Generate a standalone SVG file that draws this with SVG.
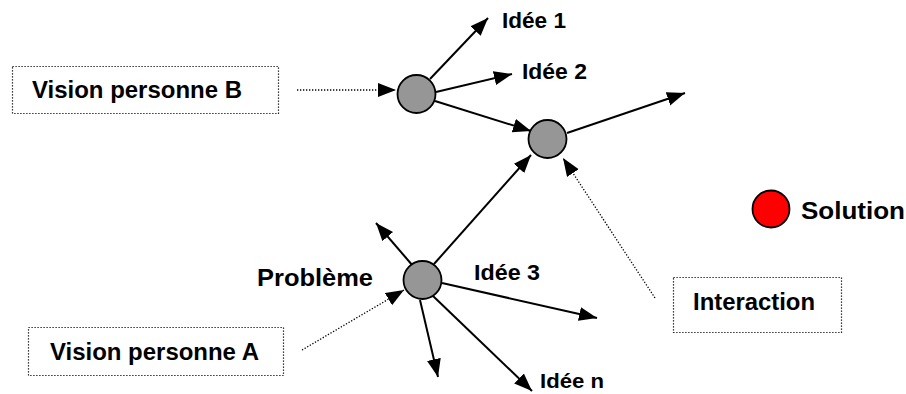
<svg xmlns="http://www.w3.org/2000/svg" width="906" height="394" viewBox="0 0 906 394">
<defs>
<style>
.t{font-family:"Liberation Sans",Arial,sans-serif;font-weight:bold;fill:#000}
.box{fill:#fff;stroke:#000;stroke-width:1.2;stroke-dasharray:1.2 1.8}
.node{fill:#969696;stroke:#000;stroke-width:1.8}
.ln{stroke:#000;stroke-width:2;fill:none}
.dt{stroke:#000;stroke-width:1.3;stroke-dasharray:1.3 1.7;fill:none}
</style>
<marker id="ah" markerUnits="userSpaceOnUse" markerWidth="20" markerHeight="16" refX="18" refY="7" orient="auto">
<path d="M0,0 L18,7 L0,14 z" fill="#000"/>
</marker>
</defs>
<rect width="906" height="394" fill="#fff"/>
<g id="connectors">
<line class="ln" x1="430" y1="79" x2="488" y2="18" marker-end="url(#ah)"/>
<line class="ln" x1="436" y1="92" x2="512" y2="74" marker-end="url(#ah)"/>
<line class="ln" x1="435" y1="101" x2="531" y2="131" marker-end="url(#ah)"/>
<line class="ln" x1="567" y1="133" x2="685" y2="93" marker-end="url(#ah)"/>
<line class="ln" x1="434" y1="264" x2="531" y2="155" marker-end="url(#ah)"/>
<line class="ln" x1="413" y1="266" x2="376" y2="223" marker-end="url(#ah)"/>
<line class="ln" x1="442" y1="283" x2="597" y2="318" marker-end="url(#ah)"/>
<line class="ln" x1="420" y1="300" x2="438" y2="377" marker-end="url(#ah)"/>
<line class="ln" x1="433" y1="296" x2="532" y2="391" marker-end="url(#ah)"/>
<line class="dt" x1="297" y1="90" x2="396" y2="90" marker-end="url(#ah)"/>
<line class="dt" x1="302" y1="350" x2="404" y2="290" marker-end="url(#ah)"/>
<line class="dt" x1="655" y1="298" x2="563" y2="158" marker-end="url(#ah)"/>
</g>
<g id="box-b">
<rect class="box" x="12.5" y="66.5" width="266" height="47"/>
<text class="t" x="32" y="97.5" font-size="23" textLength="210" lengthAdjust="spacingAndGlyphs">Vision personne B</text>
</g>
<g id="box-a">
<rect class="box" x="28.5" y="327.5" width="255" height="48"/>
<text class="t" x="50" y="360" font-size="23" textLength="209" lengthAdjust="spacingAndGlyphs">Vision personne A</text>
</g>
<g id="box-interaction">
<rect class="box" x="673.5" y="277.5" width="168" height="55"/>
<text class="t" x="693" y="310" font-size="23" textLength="122" lengthAdjust="spacingAndGlyphs">Interaction</text>
</g>
<g id="node-b"><circle class="node" cx="416.5" cy="94" r="19"/></g>
<g id="node-mid"><circle class="node" cx="547.5" cy="139" r="19"/></g>
<g id="node-probleme">
<circle class="node" cx="422.5" cy="280" r="19"/>
<text class="t" x="257" y="286" font-size="23" textLength="116" lengthAdjust="spacingAndGlyphs">Problème</text>
</g>
<g id="solution">
<circle cx="771" cy="209" r="18.5" fill="#ff0000" stroke="#000" stroke-width="1.8"/>
<text class="t" x="801" y="219" font-size="24" textLength="104" lengthAdjust="spacingAndGlyphs">Solution</text>
</g>
<g id="labels">
<text class="t" x="502" y="28" font-size="22" textLength="64" lengthAdjust="spacingAndGlyphs">Idée 1</text>
<text class="t" x="522" y="79" font-size="22" textLength="65" lengthAdjust="spacingAndGlyphs">Idée 2</text>
<text class="t" x="474" y="280" font-size="22" textLength="66" lengthAdjust="spacingAndGlyphs">Idée 3</text>
<text class="t" x="540" y="388" font-size="21" textLength="64" lengthAdjust="spacingAndGlyphs">Idée n</text>
</g>
</svg>
